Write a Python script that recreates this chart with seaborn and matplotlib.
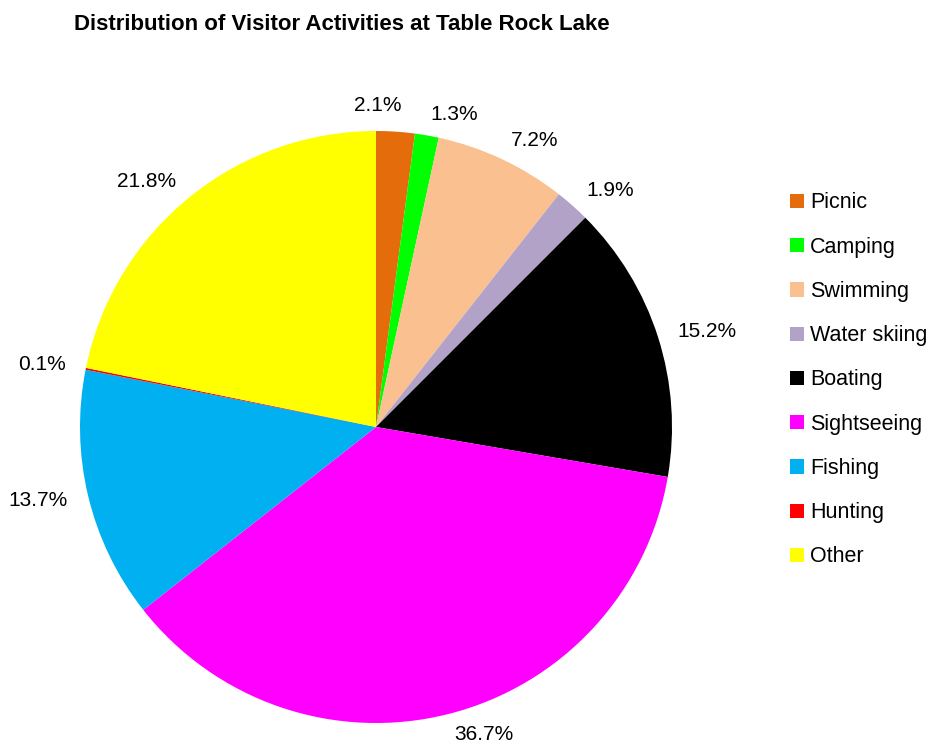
import matplotlib
matplotlib.use("Agg")
import matplotlib.pyplot as plt
import seaborn as sns
import numpy as np

# data
activities = ["Picnic", "Camping", "Swimming", "Water skiing", "Boating",
              "Sightseeing", "Fishing", "Hunting", "Other"]
shares = [2.1, 1.3, 7.2, 1.9, 15.2, 36.7, 13.7, 0.1, 21.8]
colors = ["#E46C0A", "#00FF00", "#FAC090", "#B3A2C7", "#000000",
          "#FF00FF", "#00B0F0", "#FF0000", "#FFFF00"]

sns.set_theme(style="white")
plt.rcParams["font.family"] = ["Liberation Sans", "DejaVu Sans"]
plt.rcParams["text.color"] = "black"

fig = plt.figure(figsize=(9.34, 7.52), dpi=100)
ax = fig.add_axes([80 / 934, (752 - 427 - 296) / 752, 592 / 934, 592 / 752])

labels = [f"{v:.1f}%" for v in shares]
wedges, texts = ax.pie(shares, colors=colors, labels=labels, startangle=90,
                       counterclock=False, radius=1.0, labeldistance=1.07,
                       textprops={"fontsize": 15, "color": "black"},
                       wedgeprops={"linewidth": 0})
# labels near the top sit centred above their slice
for w, t in zip(wedges, texts):
    ang = np.deg2rad((w.theta1 + w.theta2) / 2)
    if abs(np.cos(ang)) < 0.1:
        t.set_ha("center")
        t.set_y(t.get_position()[1] + 0.02)
        t.set_x(np.cos(ang) * 0.1)
ax.set_xlim(-1, 1)
ax.set_ylim(-1, 1)
ax.set_aspect("equal")
ax.axis("off")

leg = fig.legend(wedges, activities, loc="center left",
                 bbox_to_anchor=(781 / 934, 1 - 380 / 752), frameon=False,
                 fontsize=15.5, handlelength=0.65, handleheight=0.65,
                 handletextpad=0.3, labelspacing=1.08, borderaxespad=0)
for txt in leg.get_texts():
    txt.set_color("black")

fig.text(74 / 934, 1 - 24 / 752, "Distribution of Visitor Activities at Table Rock Lake",
         fontsize=16, fontweight="bold", ha="left", va="center", color="black")

fig.savefig("out.png", dpi=100)
